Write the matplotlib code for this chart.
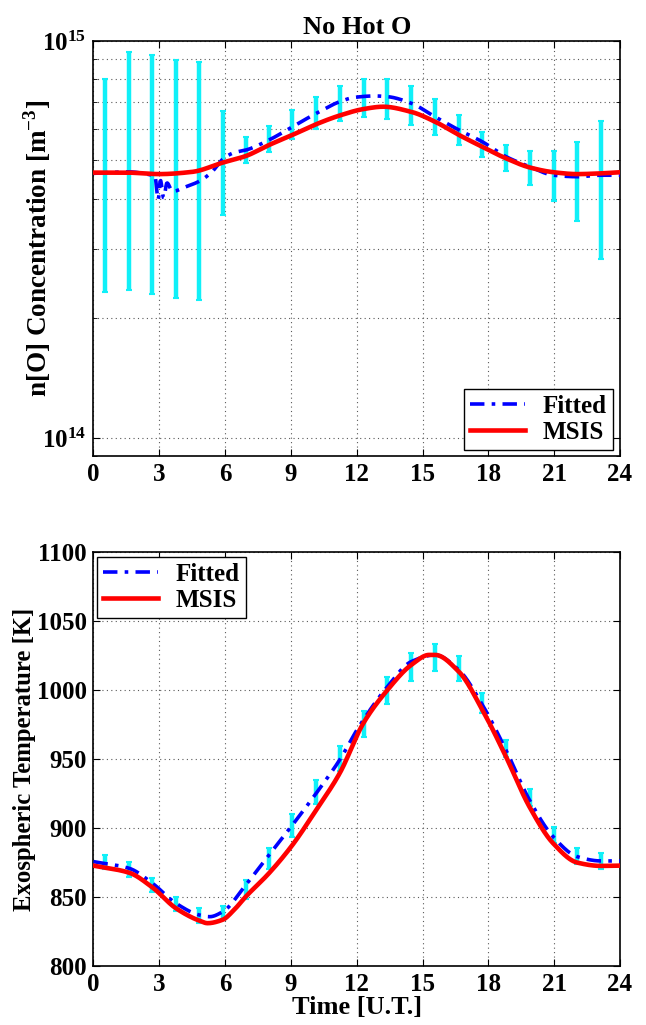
import matplotlib
matplotlib.use('Agg')
import matplotlib.pyplot as plt
import numpy as np
from matplotlib.ticker import LogLocator, NullFormatter

plt.rcParams['font.family'] = ['Liberation Serif', 'DejaVu Serif']
plt.rcParams['font.weight'] = 'bold'
plt.rcParams['mathtext.fontset'] = 'custom'
plt.rcParams['mathtext.rm'] = 'Liberation Serif:bold'
plt.rcParams['mathtext.bf'] = 'Liberation Serif:bold'

# ---- measurement times (error bars) ----
obs_time = [0.51, 1.62, 2.68, 3.76, 4.83, 5.89, 6.94, 8.0, 9.07, 10.15, 11.22,
            12.32, 13.40, 14.48, 15.57, 16.65, 17.73, 18.81, 19.89, 20.97, 22.05, 23.14]

# ---- top panel: n[O] error bar bounds ----
no_low = [2.33e14, 2.36e14, 2.31e14, 2.25e14, 2.22e14, 3.64e14, 4.93e14, 5.26e14,
          5.66e14, 6.01e14, 6.30e14, 6.42e14, 6.36e14, 6.14e14, 5.80e14, 5.47e14,
          5.11e14, 4.70e14, 4.34e14, 3.95e14, 3.52e14, 2.82e14]
no_high = [8.01e14, 9.38e14, 9.22e14, 8.96e14, 8.84e14, 6.67e14, 5.74e14, 6.12e14,
           6.69e14, 7.24e14, 7.71e14, 8.02e14, 8.02e14, 7.69e14, 7.13e14, 6.51e14,
           5.89e14, 5.48e14, 5.28e14, 5.28e14, 5.57e14, 6.29e14]

# fitted n[O] curve
fit_no_t = [0.0, 1.6, 2.68, 2.8, 2.95, 3.05, 3.2, 3.35, 3.6, 4.2, 4.85, 5.4, 5.9, 6.4,
            6.94, 8.0, 9.07, 10.15, 11.22, 11.9, 12.8, 13.4, 14.48, 15.57, 16.65,
            17.73, 18.81, 19.89, 20.97, 22.05, 23.14, 24.0]
fit_no = [4.64e14, 4.68e14, 4.59e14, 4.57e14, 3.98e14, 4.46e14, 4.02e14, 4.39e14,
          4.18e14, 4.29e14, 4.44e14, 4.68e14, 5.04e14, 5.23e14, 5.31e14, 5.63e14,
          6.08e14, 6.57e14, 7.03e14, 7.21e14, 7.27e14, 7.24e14, 6.97e14, 6.44e14,
          5.97e14, 5.57e14, 5.11e14, 4.82e14, 4.59e14, 4.55e14, 4.59e14, 4.59e14]

# MSIS n[O] curve
msis_no_t = [0.0, 1.5, 3.0, 4.5, 5.9, 6.94, 8.0, 9.07, 10.15, 11.22, 12.32, 13.2,
             14.48, 15.57, 16.65, 17.73, 18.81, 19.89, 20.97, 22.05, 23.14, 24.0]
msis_no = [4.66e14, 4.66e14, 4.62e14, 4.68e14, 4.94e14, 5.13e14, 5.47e14, 5.80e14,
           6.17e14, 6.49e14, 6.74e14, 6.83e14, 6.63e14, 6.26e14, 5.80e14, 5.41e14,
           5.06e14, 4.80e14, 4.67e14, 4.62e14, 4.64e14, 4.67e14]

# ---- bottom panel: exospheric temperature ----
temp_low = [870.1, 864.7, 853.8, 840.1, 831.4, 833.3, 848.3, 870.1, 893.7, 917.4, 941.5,
            966.2, 989.6, 1006.7, 1014.0, 1006.7, 983.6, 951.2, 916.2, 888.9, 873.9, 870.1]
temp_high = [880.4, 875.6, 863.6, 850.2, 841.8, 843.5, 862.3, 885.3, 909.9, 934.8, 959.6,
             985.0, 1009.2, 1027.0, 1033.3, 1024.6, 997.6, 963.8, 928.0, 900.5, 885.3, 881.7]

fit_temp_t = [0.0, 1.62, 2.68, 3.76, 4.83, 5.3, 5.89, 6.94, 8.0, 9.07, 10.15, 11.22,
              12.1, 13.4, 14.48, 15.57, 16.65, 17.73, 18.8, 19.87, 20.95, 22.05, 23.13, 24.0]
fit_temp = [875.6, 870.8, 860.0, 845.4, 836.9, 835.7, 839.3, 858.7, 880.4, 902.2, 925.1,
            949.3, 973.4, 1002.4, 1020.5, 1025.4, 1014.5, 989.1, 956.5, 920.3, 893.7,
            879.2, 876.1, 876.1]

msis_temp_t = [0.0, 1.62, 2.68, 3.76, 4.83, 5.2, 5.89, 6.4, 6.94, 8.0, 9.07, 10.15, 11.22,
               12.3, 13.4, 14.48, 15.3, 15.57, 16.65, 17.73, 18.8, 19.87, 20.95, 22.05,
               23.13, 24.0]
msis_temp = [872.7, 867.6, 857.0, 841.8, 832.8, 831.0, 833.5, 840.5, 850.2, 867.2, 887.7,
             913.0, 939.6, 975.9, 1000.0, 1018.1, 1025.4, 1025.4, 1013.3, 985.5, 951.7,
             915.4, 888.9, 874.9, 872.5, 872.7]

xticks = [0, 3, 6, 9, 12, 15, 18, 21, 24]
CYAN = '#10f0f8'


def pchip(x, y, xs):
    # monotone cubic through the read-off points
    x = np.asarray(x, float)
    y = np.asarray(y, float)
    h = np.diff(x)
    d = np.diff(y) / h
    m = np.zeros_like(y)
    for k in range(1, len(x) - 1):
        if d[k - 1] * d[k] > 0:
            w1 = 2 * h[k] + h[k - 1]
            w2 = h[k] + 2 * h[k - 1]
            m[k] = (w1 + w2) / (w1 / d[k - 1] + w2 / d[k])
    m[0] = d[0]
    m[-1] = d[-1]
    i = np.clip(np.searchsorted(x, xs) - 1, 0, len(h) - 1)
    t = (xs - x[i]) / h[i]
    return ((2 * t**3 - 3 * t**2 + 1) * y[i] + (t**3 - 2 * t**2 + t) * h[i] * m[i]
            + (-2 * t**3 + 3 * t**2) * y[i + 1] + (t**3 - t**2) * h[i] * m[i + 1])


def smooth(tx, vy, log=False):
    tt = np.linspace(tx[0], tx[-1], 800)
    v = np.log10(vy) if log else np.asarray(vy, float)
    out = pchip(tx, v, tt)
    return tt, (10 ** out if log else out)


def style_axes(ax):
    ax.set_xlim(0, 24)
    ax.set_xticks(xticks)
    ax.tick_params(direction='in', top=True, right=True, labelsize=18, length=5, width=0.8, pad=5)
    ax.tick_params(which='minor', direction='in', right=True, length=3)
    ax.grid(True, which='major', linestyle=(0, (1, 3)), color='0.35', linewidth=0.8)
    for s in ax.spines.values():
        s.set_linewidth(1.2)
    for lab in ax.get_xticklabels() + ax.get_yticklabels():
        lab.set_fontweight('bold')


def make_legend(ax, loc, anchor):
    leg = ax.legend(loc=loc, fontsize=18, fancybox=False, edgecolor='black',
                    framealpha=1, handlelength=2.2, handletextpad=0.7, borderpad=0.25,
                    labelspacing=0.1, borderaxespad=0, bbox_to_anchor=anchor)
    leg.get_frame().set_linewidth(1.0)
    return leg


fig = plt.figure(figsize=(6.46, 10.25), dpi=100)
ax1 = fig.add_axes([0.1447, 0.555, 0.8151, 0.405])
ax2 = fig.add_axes([0.1447, 0.0576, 0.8151, 0.4039])

# top panel
obs = np.array(obs_time)
lo = np.array(no_low)
hi = np.array(no_high)
mid = np.sqrt(lo * hi)
ax1.errorbar(obs, mid, yerr=[mid - lo, hi - mid], fmt='none', ecolor=CYAN,
             elinewidth=3.2, capsize=2.5, capthick=1.5, zorder=2)
tt, yy = smooth(fit_no_t, fit_no, log=True)
ax1.plot(tt, yy, color='blue', linestyle=(0, (4, 2, 1, 2)), linewidth=2.6, label='Fitted', zorder=3)
tt, yy = smooth(msis_no_t, msis_no, log=True)
ax1.plot(tt, yy, color='red', linewidth=3.3, label='MSIS', zorder=4)
ax1.set_yscale('log')
ax1.set_ylim(10 ** 13.954, 1e15)
ax1.yaxis.set_major_locator(LogLocator(base=10, numticks=5))
ax1.yaxis.set_minor_locator(LogLocator(base=10, subs=np.arange(2, 10), numticks=12))
ax1.yaxis.set_minor_formatter(NullFormatter())
style_axes(ax1)
ax1.grid(True, which='minor', axis='y', linestyle=(0, (1, 3)), color='0.35', linewidth=0.8)
ax1.set_ylabel(r'n[O] Concentration [m$^{\mathbf{-3}}$]', fontsize=19.5, fontweight='bold')
ax1.yaxis.set_label_coords(-0.077, 0.5)
ax1.set_title('No Hot O', fontsize=19, fontweight='bold', pad=5)
make_legend(ax1, 'lower right', (0.987, 0.015))

# bottom panel
lo = np.array(temp_low)
hi = np.array(temp_high)
mid = (lo + hi) / 2
ax2.errorbar(obs, mid, yerr=[mid - lo, hi - mid], fmt='none', ecolor=CYAN,
             elinewidth=3.2, capsize=2.5, capthick=1.5, zorder=2)
tt, yy = smooth(fit_temp_t, fit_temp)
ax2.plot(tt, yy, color='blue', linestyle=(0, (4, 2, 1, 2)), linewidth=2.6, label='Fitted', zorder=3)
tt, yy = smooth(msis_temp_t, msis_temp)
ax2.plot(tt, yy, color='red', linewidth=3.3, label='MSIS', zorder=4)
ax2.set_ylim(800, 1100)
ax2.set_yticks([800, 850, 900, 950, 1000, 1050, 1100])
style_axes(ax2)
ax2.set_ylabel('Exospheric Temperature [K]', fontsize=17.8, fontweight='bold')
ax2.yaxis.set_label_coords(-0.109, 0.5)
ax2.set_xlabel('Time [U.T.]', fontsize=19, fontweight='bold', labelpad=0)
make_legend(ax2, 'upper left', (0.007, 0.988))

fig.savefig('out.png', dpi=100)
